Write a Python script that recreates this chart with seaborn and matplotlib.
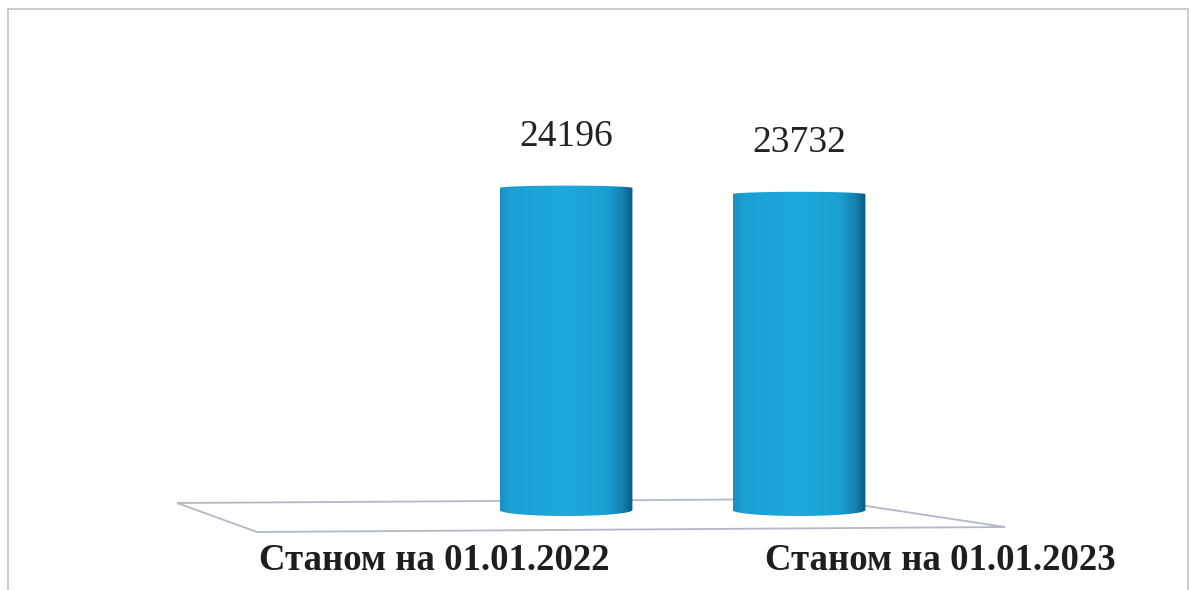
import numpy as np
import pandas as pd
import matplotlib
matplotlib.use("Agg")
import matplotlib.pyplot as plt
from matplotlib.colors import LinearSegmentedColormap
from matplotlib.patches import Polygon, Rectangle, PathPatch
from matplotlib.path import Path
import seaborn as sns

categories = ["Станом на 01.01.2022", "Станом на 01.01.2023"]
values = [24196, 23732]

sns.set_theme(style="white")
plt.rcParams['font.family'] = ['Liberation Serif', 'DejaVu Serif']

W, H = 1194, 590
fig = plt.figure(figsize=[W / 100, H / 100], dpi=100)
fig.patch.set_facecolor("white")

def px(x, y):
    # pixel from top-left -> figure fraction
    return (x / W, 1 - y / H)

# frame and floor of the 3D chart
fig.patches.append(Rectangle(px(8, 600), (1188 - 8) / W, (600 - 9) / H,
                             transform=fig.transFigure, fill=False,
                             edgecolor="#c4c4c4", lw=1.2, zorder=-2))
floor = [px(177, 503), px(820, 499), px(1005, 527), px(257, 532)]
fig.patches.append(Polygon(floor, closed=True, transform=fig.transFigure,
                           facecolor="white", edgecolor="#b4b8c6", lw=1.3, zorder=-1))

ax = fig.add_axes([0, 0, 1, 1])
ax.patch.set_alpha(0)
data = pd.DataFrame({"label": categories, "value": values})
sns.barplot(data=data, x="label", y="value", color="#1ba3d6", width=0.57,
            saturation=1, ax=ax)

unit = 322 / values[0]            # pixels per value unit
ax.axis("off")

cmap = LinearSegmentedColormap.from_list("cyl", [
    (0.0, "#1890c4"), (0.08, "#1ba0d4"), (0.5, "#1fa9dc"),
    (0.8, "#1aa0d3"), (0.92, "#1582b2"), (1.0, "#0c5a84")])
grad = np.linspace(0, 1, 256)[None, :]

ry = 6 / unit   # half-height of the bottom ellipse
for bar in ax.patches:
    x0, w, h = bar.get_x(), bar.get_width(), bar.get_height()
    t = np.linspace(np.pi, 2 * np.pi, 60)
    arc = np.column_stack([x0 + w / 2 + w / 2 * np.cos(t), ry * np.sin(t)])
    top_t = np.linspace(0, np.pi, 60)
    top = np.column_stack([x0 + w / 2 + w / 2 * np.cos(top_t), h + 0.4 * ry * np.sin(top_t)])
    verts = np.vstack([arc, top, arc[:1]])
    clip = PathPatch(Path(verts), transform=ax.transData, facecolor="none", edgecolor="none")
    ax.add_patch(clip)
    im = ax.imshow(grad, cmap=cmap, aspect="auto", extent=[x0, x0 + w, -ry, h + ry],
                   zorder=2, interpolation="bicubic")
    im.set_clip_path(clip)
    bar.set_alpha(0)

ax.set_xlim(-566 / 233, (W - 566) / 233)
ax.set_ylim(-80 / unit, (H - 80) / unit)

for i, v in enumerate(values):
    ax.annotate(str(v), xy=(i, v), xytext=(0, 37), textcoords="offset points",
                ha="center", va="center", fontsize=27, color="#222222")

label_dx = [-95, 102]
for i, lab in enumerate(categories):
    ax.annotate(lab, xy=(i, 0), xytext=(label_dx[i], -43), textcoords="offset points",
                ha="center", va="baseline", fontsize=26.5, fontweight="bold", color="#1e1e1e")

fig.savefig("out.png", dpi=100, facecolor="white")
